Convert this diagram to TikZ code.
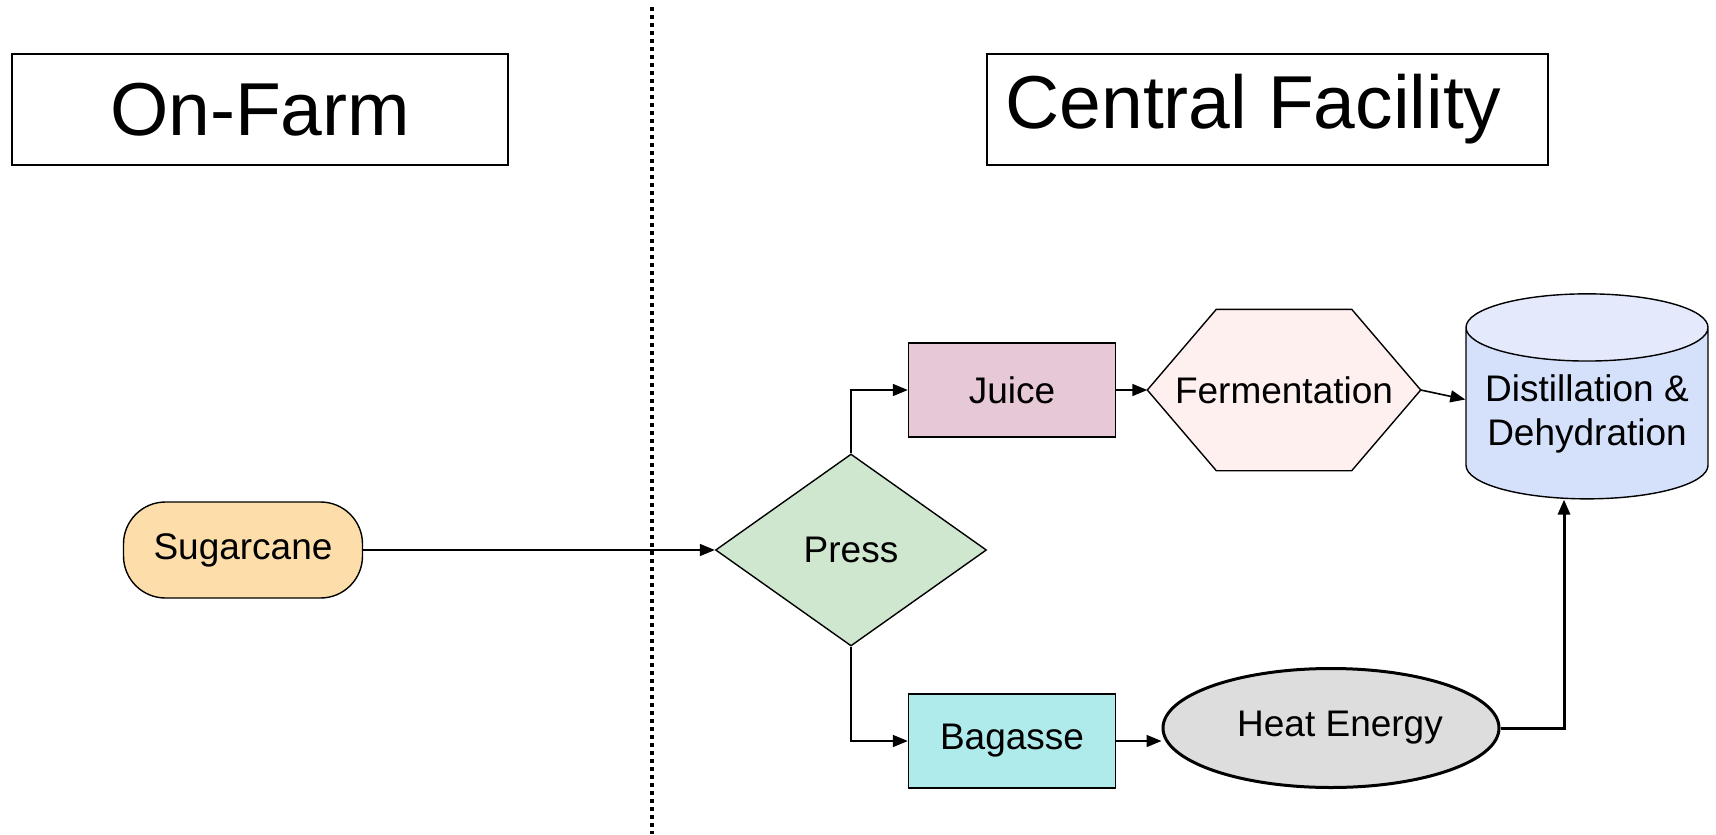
\documentclass[tikz,border=0pt]{standalone}
\usepackage{fontspec}
\setmainfont{Liberation Sans}
\usetikzlibrary{shapes.geometric,arrows.meta,backgrounds}

\definecolor{canecol}{RGB}{253,222,170}
\definecolor{presscol}{RGB}{207,230,207}
\definecolor{juicecol}{RGB}{230,200,214}
\definecolor{fermcol}{RGB}{255,240,240}
\definecolor{tankcol}{RGB}{213,224,250}
\definecolor{tanktop}{RGB}{228,234,252}
\definecolor{bagcol}{RGB}{176,235,235}
\definecolor{heatcol}{RGB}{221,221,221}

\tikzstyle{heading} = [draw=black,line width=0.7pt,font=\fontsize{37.5}{44}\selectfont,minimum height=55.5pt,inner sep=0pt]
\tikzstyle{flow} = [draw=black,line width=0.7pt,font=\fontsize{18.5}{22}\selectfont,align=center,inner sep=0pt]
\tikzstyle{process} = [flow,rectangle,minimum width=103.5pt,minimum height=47pt]
\tikzstyle{start} = [flow,rectangle,rounded corners=21pt,minimum width=119.5pt,minimum height=48pt,fill=canecol]
\tikzstyle{decision} = [flow,diamond,aspect=1.41,minimum width=135.5pt,minimum height=96pt,fill=presscol]
\tikzstyle{hexa} = [flow,draw=none,rectangle,minimum width=136pt,minimum height=80pt]
\tikzstyle{tank} = [flow,cylinder,shape border rotate=90,shape aspect=0.33,minimum width=121pt,minimum height=102.5pt,cylinder uses custom fill,cylinder body fill=tankcol,cylinder end fill=tanktop]
\tikzstyle{energy} = [flow,ellipse,line width=1.5pt,minimum width=168pt,minimum height=59.5pt,fill=heatcol]
\tikzstyle{link} = [-{Triangle[length=7.5pt,width=6pt]},line width=0.8pt]

\begin{document}
\begin{tikzpicture}[x=0.5pt,y=-0.5pt]
	\useasboundingbox (0,0) rectangle (1716,834);
	% headings
	\node (farm) [heading,minimum width=248pt] at (260,109.5) {On-Farm};
	\node (central) [heading,minimum width=280.5pt] at (1267.5,109.5) {Central Facility\kern14pt};
	\draw [line width=2pt,dash pattern=on 2pt off 2pt] (652,7) -- (652,834);
	% farm side
	\node (sugar) [start] at (243,550) {Sugarcane};
	\node (press) [decision,right of=sugar,node distance=304pt] {Press};
	% juice line
	\node (juice) [process,fill=juicecol] at (1012,390) {Juice};
	\node (ferment) [hexa,right of=juice,node distance=136pt] {Fermentation};
	\begin{scope}[on background layer]
		\draw [line width=0.7pt,fill=fermcol] (ferment.west) -- ([xshift=34.5pt]ferment.north west)
			-- ([xshift=-34.5pt]ferment.north east) -- (ferment.east)
			-- ([xshift=-34.5pt]ferment.south east) -- ([xshift=34.5pt]ferment.south west) -- cycle;
	\end{scope}
	\node (distill) [tank] at (1587,413.5) {Distillation \&\\Dehydration};
	% bagasse line
	\node (bagasse) [process,fill=bagcol] at (1012,741) {Bagasse};
	\node (heat) [energy] at (1331,728) {\hspace*{9pt}Heat Energy};
	\coordinate (heatin) at ([xshift=-11.5pt]distill.south);
	% connections
	\draw [link] (sugar) -- (press);
	\draw [link] (press.north) |- (juice);
	\draw [link] (press.south) |- (bagasse);
	\draw [link] (juice) -- (ferment);
	\draw [link] (ferment.east) -- ([yshift=7pt]distill.west);
	\draw [link] (bagasse.east) -- (bagasse.east -| heat.west);
	\draw [link,line width=1.5pt] (heat.east) -| (heatin);
\end{tikzpicture}
\end{document}
